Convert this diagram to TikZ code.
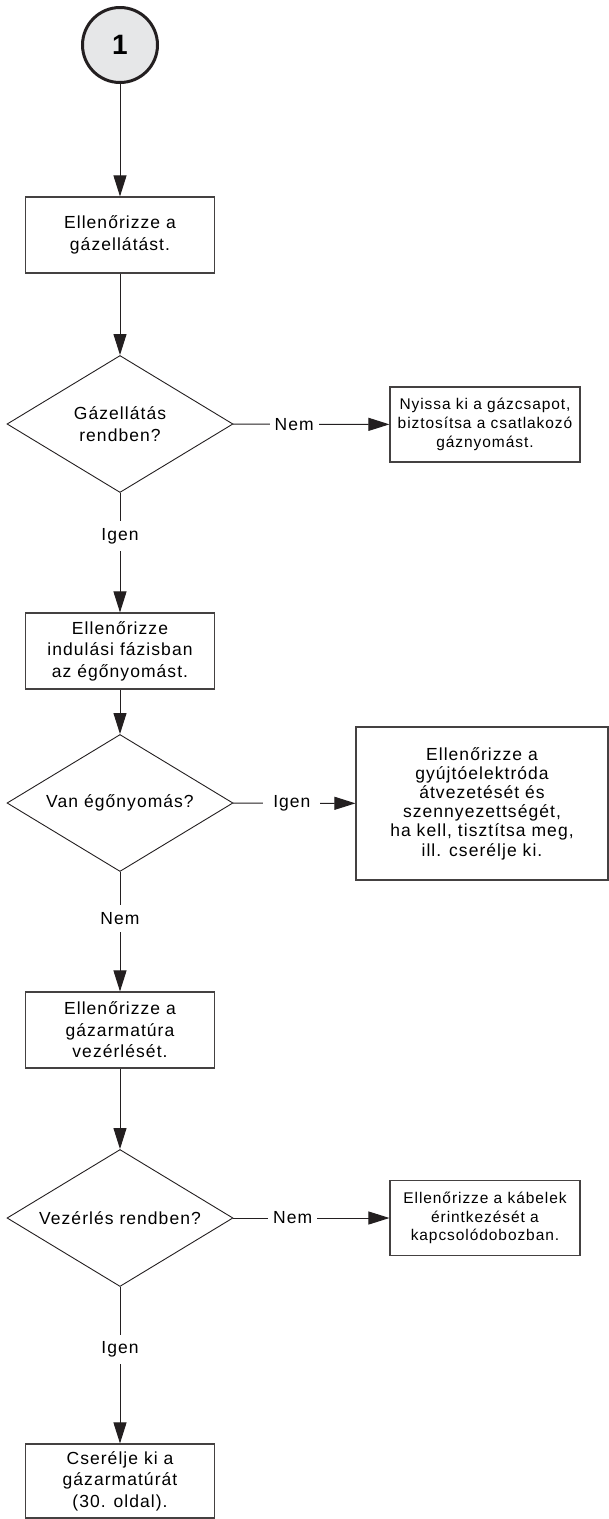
\documentclass[tikz,border=0pt]{standalone}
\usepackage{fontspec}
\setmainfont{Liberation Sans}[LetterSpace=6]
\usepackage{tikz}
\usepackage{xcolor}
\usetikzlibrary{arrows.meta}
\usetikzlibrary{shapes.geometric}
\usetikzlibrary{math}
\definecolor{tinta}{RGB}{35,31,32}
\definecolor{korszurke}{RGB}{230,231,232}

\begin{document}
\begin{tikzpicture}[x=1pt,y=-1pt,
        doboz/.style={draw=tinta!85,line width=1.1pt,rectangle,align=center,inner sep=2pt,
            minimum width=189pt,minimum height=76pt,font=\fontsize{17.5}{21.5}\selectfont},
        kisdoboz/.style={doboz,minimum width=190pt,minimum height=75pt,font=\fontsize{15.5}{18.8}\selectfont},
        dontes/.style={draw=tinta,line width=0.9pt,diamond,aspect=1.65,align=center,inner sep=2pt,
            minimum width=226pt,minimum height=137pt,font=\fontsize{17.5}{21.5}\selectfont},
        nyil/.style={draw=tinta,line width=1pt,-{Triangle[length=21pt,width=13pt]}},
        felirat/.style={fill=white,inner xsep=5pt,inner ysep=7pt,font=\fontsize{17.5}{21}\selectfont}]
        \useasboundingbox (0,0) rectangle (609,1519);
        \tikzmath{ %两列的横坐标
            \bal = 120;
            \jobb = 485;
        }
        \node[circle,draw=tinta,line width=3pt,fill=korszurke,minimum size=75pt,inner sep=0pt,
            font=\fontsize{28}{28}\selectfont\bfseries] (kezdo) at (\bal,45) {1};
        \node[doboz] (ell1) at (\bal,235) {Ellenőrizze a\\gázellátást.};
        \node[dontes] (don1) at (\bal,424) {Gázellátás\\rendben?};
        \node[kisdoboz] (gazcsap) at (\jobb,424.5) {Nyissa ki a gázcsapot,\\biztosítsa a csatlakozó\\gáznyomást.};
        \node[doboz] (ell2) at (\bal,651) {Ellenőrizze\\indulási fázisban\\az égőnyomást.};
        \node[dontes] (don2) at (\bal,803) {Van égőnyomás?};
        \node[doboz,minimum width=252pt,minimum height=153pt,font=\fontsize{17.5}{19.2}\selectfont]
            (elektroda) at (482,803.5) {Ellenőrizze a\\gyújtóelektróda\\átvezetését és\\szennyezettségét,\\ha kell, tisztítsa meg,\\ill. cserélje ki.};
        \node[doboz] (ell3) at (\bal,1030) {Ellenőrizze a\\gázarmatúra\\vezérlését.};
        \node[dontes] (don3) at (\bal,1218) {Vezérlés rendben?};
        \node[kisdoboz,font=\fontsize{15.5}{18.3}\selectfont] (kabel) at (\jobb,1218) {Ellenőrizze a kábelek\\érintkezését a\\kapcsolódobozban.};
        \node[doboz,minimum height=74pt] (csere) at (\bal,1481) {Cserélje ki a\\gázarmatúrát\\(30. oldal).};
        %连接线
        \draw[nyil] (kezdo) -- (ell1);
        \draw[nyil] (ell1) -- (don1);
        \draw[nyil] (don1) -- node[felirat,pos=.39] {Nem} (gazcsap);
        \draw[nyil] (don1) -- node[felirat,pos=.36] {Igen} (ell2);
        \draw[nyil] (ell2) -- (don2);
        \draw[nyil] (don2) -- node[felirat,pos=.48,inner xsep=10pt] {Igen} (elektroda);
        \draw[nyil] (don2) -- node[felirat,pos=.39] {Nem} (ell3);
        \draw[nyil] (ell3) -- (don3);
        \draw[nyil] (don3) -- node[felirat,pos=.38] {Nem} (kabel);
        \draw[nyil] (don3) -- node[felirat,pos=.40] {Igen} (csere);
    \end{tikzpicture}
\end{document}
